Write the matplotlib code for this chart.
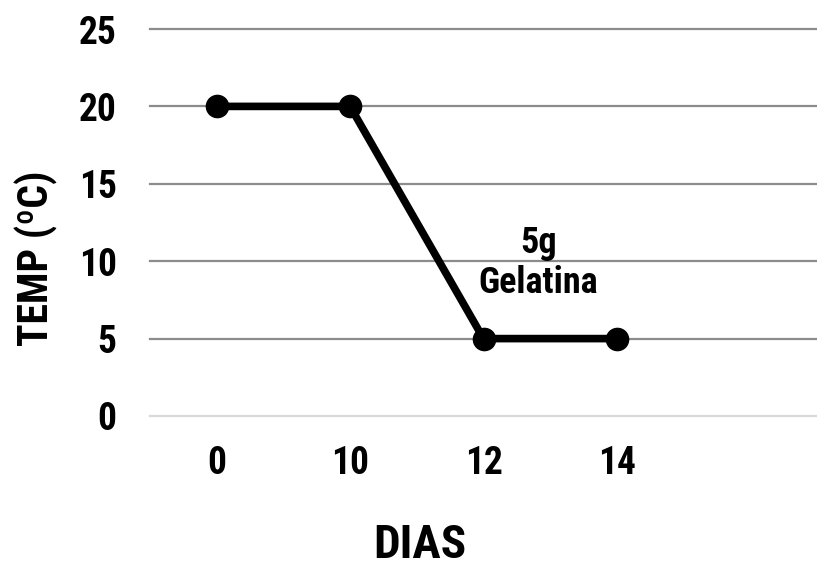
import matplotlib.pyplot as plt
from matplotlib import font_manager

# data
dias = ["0", "10", "12", "14"]
temp = [20, 20, 5, 5]
n_slots = 5  # one empty category at the right
y_ticks = [0, 5, 10, 15, 20, 25]

fam = ["Roboto Condensed", "Roboto", "DejaVu Sans"]
font = dict(family=fam, weight="black", stretch="condensed")

fig = plt.figure(figsize=(8.17, 5.71), dpi=100)
ax = fig.add_axes([150 / 817, 1 - 416 / 571, 667 / 817, (416 - 29) / 571])

x = list(range(len(dias)))
ax.plot(x, temp, "o-", color="black", lw=5.5, ms=16, zorder=5, clip_on=False)

ax.set_xlim(-0.5, n_slots - 0.5)
ax.set_ylim(0, 25)
ax.set_xticks(x)
ax.set_xticklabels(dias)
ax.set_yticks(y_ticks)
ax.set_yticklabels([str(v) for v in y_ticks])

for v in y_ticks:
    ax.axhline(v, color="#d9d9d9" if v == 0 else "#8c8c8c", lw=1.6, zorder=1,
               clip_on=False)

for s in ax.spines.values():
    s.set_visible(False)
ax.tick_params(length=0, pad=21)
ax.tick_params(axis="y", pad=24)
for lbl in ax.get_xticklabels() + ax.get_yticklabels():
    lbl.set_fontproperties(font_manager.FontProperties(size=27, **font))

ax.text(2.41, 9.9, "5g\nGelatina", ha="center", va="center", fontsize=26,
        linespacing=1.15, **font)

fig.text(420 / 817, 1 - 558 / 571, "DIAS", ha="center", va="baseline",
         fontsize=34, **font)
fig.text(36 / 817, 1 - 258 / 571, "TEMP (ºC)", ha="center", va="center",
         rotation=90, fontsize=30, **font)

fig.savefig("out.png", dpi=100)
